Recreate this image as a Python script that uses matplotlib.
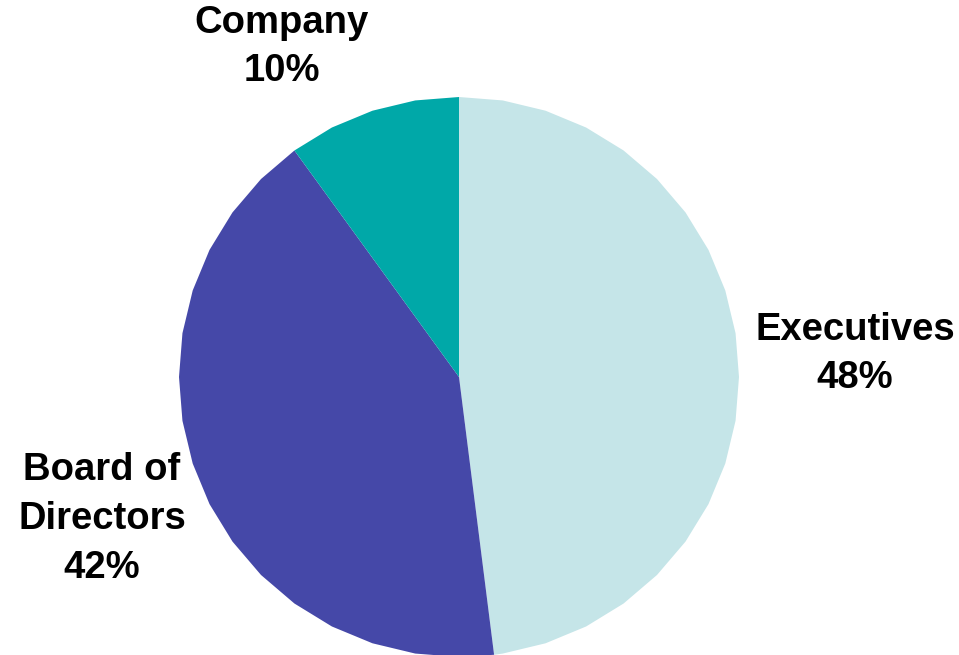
import numpy as np
import matplotlib.pyplot as plt
from matplotlib.patches import Polygon

labels = ['Executives', 'Board of\nDirectors', 'Company']
shares = [48, 42, 10]
colors = ['#C5E5E8', '#4548A8', '#00A8A8']

# label centres in figure pixels (x, y from top)
label_pos = [(855, 354), (102, 519), (282, 47)]

fig = plt.figure(figsize=(9.59, 6.55), dpi=100)
ax = fig.add_axes([0, 0, 1, 1])

cx, cy, r = 459, 655 - 377, 280
wedges, _ = ax.pie(shares, colors=colors, startangle=90, counterclock=False,
                   center=(cx, cy), radius=r, frame=True)
ax.set_xlim(0, 959)
ax.set_ylim(0, 655)
ax.set_aspect('equal')
ax.axis('off')

# redraw wedges as faceted polygons (coarse circle approximation)
n_seg = 40
step = 360 / n_seg
for w in wedges:
    t1, t2 = w.theta1, w.theta2
    grid = 90 + step * np.arange(-n_seg, n_seg + 1)
    angs = [t1] + [a for a in grid if t1 < a < t2] + [t2]
    pts = [(cx, cy)] + [(cx + r * np.cos(np.radians(a)), cy + r * np.sin(np.radians(a))) for a in angs]
    ax.add_patch(Polygon(pts, closed=True, facecolor=w.get_facecolor(), edgecolor='none', zorder=2))
    w.set_visible(False)

for lab, s, (px, py) in zip(labels, shares, label_pos):
    ax.text(px, 655 - py, f'{lab}\n{s}%', ha='center', va='center', fontsize=27.5,
            fontweight='bold', family='Liberation Sans', linespacing=1.45)

fig.savefig('out.png', dpi=100)
